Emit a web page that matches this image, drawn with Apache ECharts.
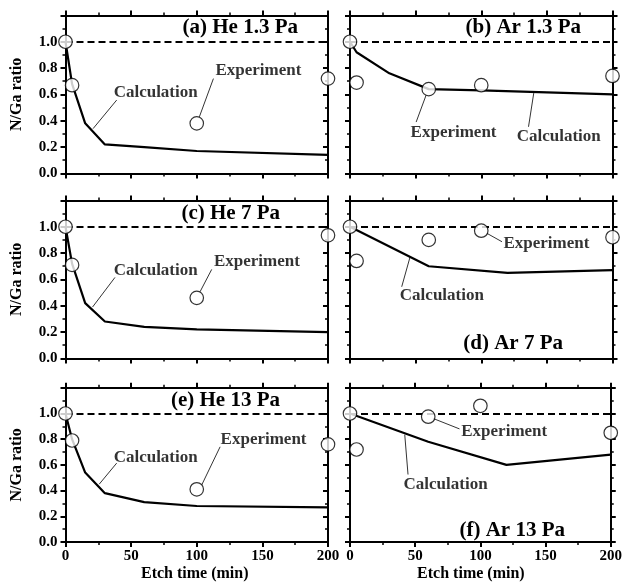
<!DOCTYPE html>
<html><head><meta charset="utf-8">
<script src="https://cdn.jsdelivr.net/npm/echarts@6/dist/echarts.min.js"></script>
<style>html,body{margin:0;padding:0;background:#fff}#c{width:625px;height:583px}</style>
</head><body><div id="c"></div>
<script>
// ---------- data ----------
const heExpTime = [0, 5, 100, 200];
const arExpTime = [0, 5, 60, 100, 200];
const heExp1_3 = [1.00, 0.67, 0.38, 0.72];
const arExp1_3 = [1.00, 0.69, 0.64, 0.67, 0.74];
const heExp7 = [1.00, 0.71, 0.46, 0.935];
const arExp7 = [1.00, 0.74, 0.90, 0.97, 0.92];
const heExp13 = [1.00, 0.79, 0.41, 0.76];
const arExp13 = [1.00, 0.72, 0.975, 1.06, 0.85];

const heCalcTime = [0, 5, 15, 30, 60, 100, 200];
const heCalc1_3 = [1.00, 0.68, 0.38, 0.22, 0.20, 0.17, 0.14];
const heCalc7 = [1.00, 0.72, 0.42, 0.28, 0.24, 0.22, 0.20];
const heCalc13 = [1.00, 0.80, 0.54, 0.38, 0.31, 0.28, 0.27];
const arCalcTime1_3 = [0, 5, 30, 60, 100, 200];
const arCalc1_3 = [1.00, 0.92, 0.76, 0.64, 0.63, 0.60];
const arCalcTime = [0, 60, 120, 200];
const arCalc7 = [1.00, 0.70, 0.65, 0.67];
const arCalc13 = [1.00, 0.78, 0.60, 0.68];

const referenceLevel = 1.0;
const panelTitles = ['(a) He 1.3 Pa', '(b) Ar 1.3 Pa', '(c) He 7 Pa', '(d) Ar 7 Pa', '(e) He 13 Pa', '(f) Ar 13 Pa'];
const xName = 'Etch time (min)';
const yName = 'N/Ga ratio';

// annotation text anchors and leader lines (data coordinates)
const annotations = [
  [{t: 'Calculation', at: [68.7, 0.61], a: [39, 0.557], b: [21, 0.34]},
   {t: 'Experiment', at: [147, 0.78], a: [112.7, 0.72], b: [102, 0.43]}],
  [{t: 'Experiment', at: [78.9, 0.31], a: [50.4, 0.39], b: [58, 0.595]},
   {t: 'Calculation', at: [159, 0.28], a: [136, 0.354], b: [140, 0.61]}],
  [{t: 'Calculation', at: [68.7, 0.67], a: [37.7, 0.615], b: [20.6, 0.39]},
   {t: 'Experiment', at: [145.8, 0.734], a: [111.4, 0.676], b: [102.5, 0.506]}],
  [{t: 'Experiment', at: [149.6, 0.873], a: [104.3, 0.95], b: [115.8, 0.886]},
   {t: 'Calculation', at: [70, 0.48], a: [39.4, 0.544], b: [45.8, 0.772]}],
  [{t: 'Calculation', at: [68.7, 0.66], a: [39, 0.614], b: [25.7, 0.45]},
   {t: 'Experiment', at: [150.9, 0.797], a: [117.8, 0.741], b: [103.8, 0.444]}],
  [{t: 'Experiment', at: [118.3, 0.86], a: [63.6, 0.962], b: [84, 0.88]},
   {t: 'Calculation', at: [73.3, 0.444], a: [42, 0.835], b: [44.5, 0.525]}]
];

const panels = [
  {expT: heExpTime, exp: heExp1_3, calcT: heCalcTime, calc: heCalc1_3},
  {expT: arExpTime, exp: arExp1_3, calcT: arCalcTime1_3, calc: arCalc1_3},
  {expT: heExpTime, exp: heExp7, calcT: heCalcTime, calc: heCalc7},
  {expT: arExpTime, exp: arExp7, calcT: arCalcTime, calc: arCalc7},
  {expT: heExpTime, exp: heExp13, calcT: heCalcTime, calc: heCalc13},
  {expT: arExpTime, exp: arExp13, calcT: arCalcTime, calc: arCalc13}
];

// ---------- layout / style ----------
const FONT = "'Liberation Serif','Times New Roman',serif";
const colLeft = [65.5, 350];
const rowTop = [15.4, 200.4, 387.8];
const gridW = 262.5, gridH = 158;
const titlePos = [
  {right: 327, cy: 29}, {right: 44, cy: 29},
  {right: 345, cy: 215}, {right: 62, cy: 345},
  {right: 345, cy: 401.7}, {right: 60, cy: 531.7}
];
const xNameShift = [4, 19];
const TITLE_FS = 21;

const zip = (a, b) => a.map((v, i) => [v, b[i]]);
const axisLine = {show: true, onZero: false, lineStyle: {color: '#000', width: 2}};

const grid = [], xAxis = [], yAxis = [], series = [], title = [];
panels.forEach((p, i) => {
  const col = i % 2, row = Math.floor(i / 2);
  grid.push({left: colLeft[col], top: rowTop[row], width: gridW, height: gridH});
  const bottomRow = row === 2;
  const leftCol = col === 0;
  // bottom x
  xAxis.push({
    type: 'value', gridIndex: i, min: 0, max: 200, interval: 50, position: 'bottom',
    axisLine, splitLine: {show: false},
    axisTick: {show: true, inside: false, length: 5, lineStyle: {width: 2, color: '#000'}},
    minorTick: {show: true, splitNumber: 2, length: 3, lineStyle: {width: 1.5, color: '#000'}},
    axisLabel: {show: bottomRow, color: '#000', fontFamily: FONT, fontWeight: 'bold', fontSize: 15, margin: 7,
      formatter: v => String(v)},
    name: bottomRow ? xName : '', nameLocation: 'middle', nameGap: 24,
    nameTextStyle: {color: '#000', fontFamily: FONT, fontWeight: 'bold', fontSize: 16,
      padding: [0, xNameShift[col], 0, 0]}
  });
  // top x
  xAxis.push({
    type: 'value', gridIndex: i, min: 0, max: 200, interval: 50, position: 'top',
    axisLine, splitLine: {show: false},
    axisTick: {show: true, inside: false, length: 5, lineStyle: {width: 2, color: '#000'}},
    minorTick: {show: true, splitNumber: 2, length: 3, lineStyle: {width: 1.5, color: '#000'}},
    axisLabel: {show: false}
  });
  // left y
  yAxis.push({
    type: 'value', gridIndex: i, min: 0, max: 1.2, interval: 0.2, position: 'left',
    axisLine, splitLine: {show: false},
    axisTick: {show: true, inside: false, length: 5, lineStyle: {width: 2, color: '#000'}},
    minorTick: {show: true, splitNumber: 2, length: 3, lineStyle: {width: 1.5, color: '#000'}},
    axisLabel: {show: leftCol, color: '#000', fontFamily: FONT, fontWeight: 'bold', fontSize: 15, margin: 8,
      formatter: v => v > 1.05 ? '' : v.toFixed(1)},
    name: leftCol ? yName : '', nameLocation: 'middle', nameGap: 41,
    nameTextStyle: {color: '#000', fontFamily: FONT, fontWeight: 'bold', fontSize: 16}
  });
  // right y
  yAxis.push({
    type: 'value', gridIndex: i, min: 0, max: 1.2, interval: 0.2, position: 'right',
    axisLine, splitLine: {show: false},
    axisTick: {show: true, inside: leftCol, length: 5, lineStyle: {width: 2, color: '#000'}},
    minorTick: {show: true, splitNumber: 2, length: 3, lineStyle: {width: 1.5, color: '#000'}},
    axisLabel: {show: false}
  });
  title.push({
    text: panelTitles[i], right: titlePos[i].right, top: titlePos[i].cy - TITLE_FS / 2 - 1, padding: 0,
    textStyle: {color: '#000', fontFamily: FONT, fontWeight: 'bold', fontSize: TITLE_FS, lineHeight: TITLE_FS}
  });
  const xi = 2 * i, yi = 2 * i;
  // calculation line + dashed reference
  series.push({
    type: 'line', xAxisIndex: xi, yAxisIndex: yi, data: zip(p.calcT, p.calc),
    symbol: 'none', lineStyle: {color: '#000', width: 2.2}, z: 3, silent: true,
    markLine: {
      silent: true, symbol: 'none', label: {show: false},
      lineStyle: {color: '#000', width: 2, type: [7, 4]},
      data: [{yAxis: referenceLevel}]
    }
  });
  // annotations
  const ann = annotations[i];
  series.push({
    type: 'scatter', xAxisIndex: xi, yAxisIndex: yi, symbolSize: 0, z: 4, silent: true,
    data: ann.map(a => ({value: a.at, name: a.t})),
    label: {show: true, position: 'inside', formatter: d => d.name, color: '#000',
      fontFamily: FONT, fontWeight: 'bold', fontSize: 17},
    markLine: {
      silent: true, symbol: 'none', label: {show: false},
      lineStyle: {color: '#000', width: 0.8, type: 'solid'},
      data: ann.map(a => [{coord: a.a}, {coord: a.b}])
    }
  });
  // experiment circles
  series.push({
    type: 'scatter', xAxisIndex: xi, yAxisIndex: yi, data: zip(p.expT, p.exp),
    symbol: 'circle', symbolSize: 13.5, z: 5, silent: true,
    itemStyle: {color: '#fff', borderColor: '#000', borderWidth: 1.2}
  });
});

const chart = echarts.init(document.getElementById('c'), null, {renderer: 'canvas'});
chart.setOption({
  animation: false, backgroundColor: '#fff',
  title, grid, xAxis, yAxis, series
});
</script>
</body></html>
